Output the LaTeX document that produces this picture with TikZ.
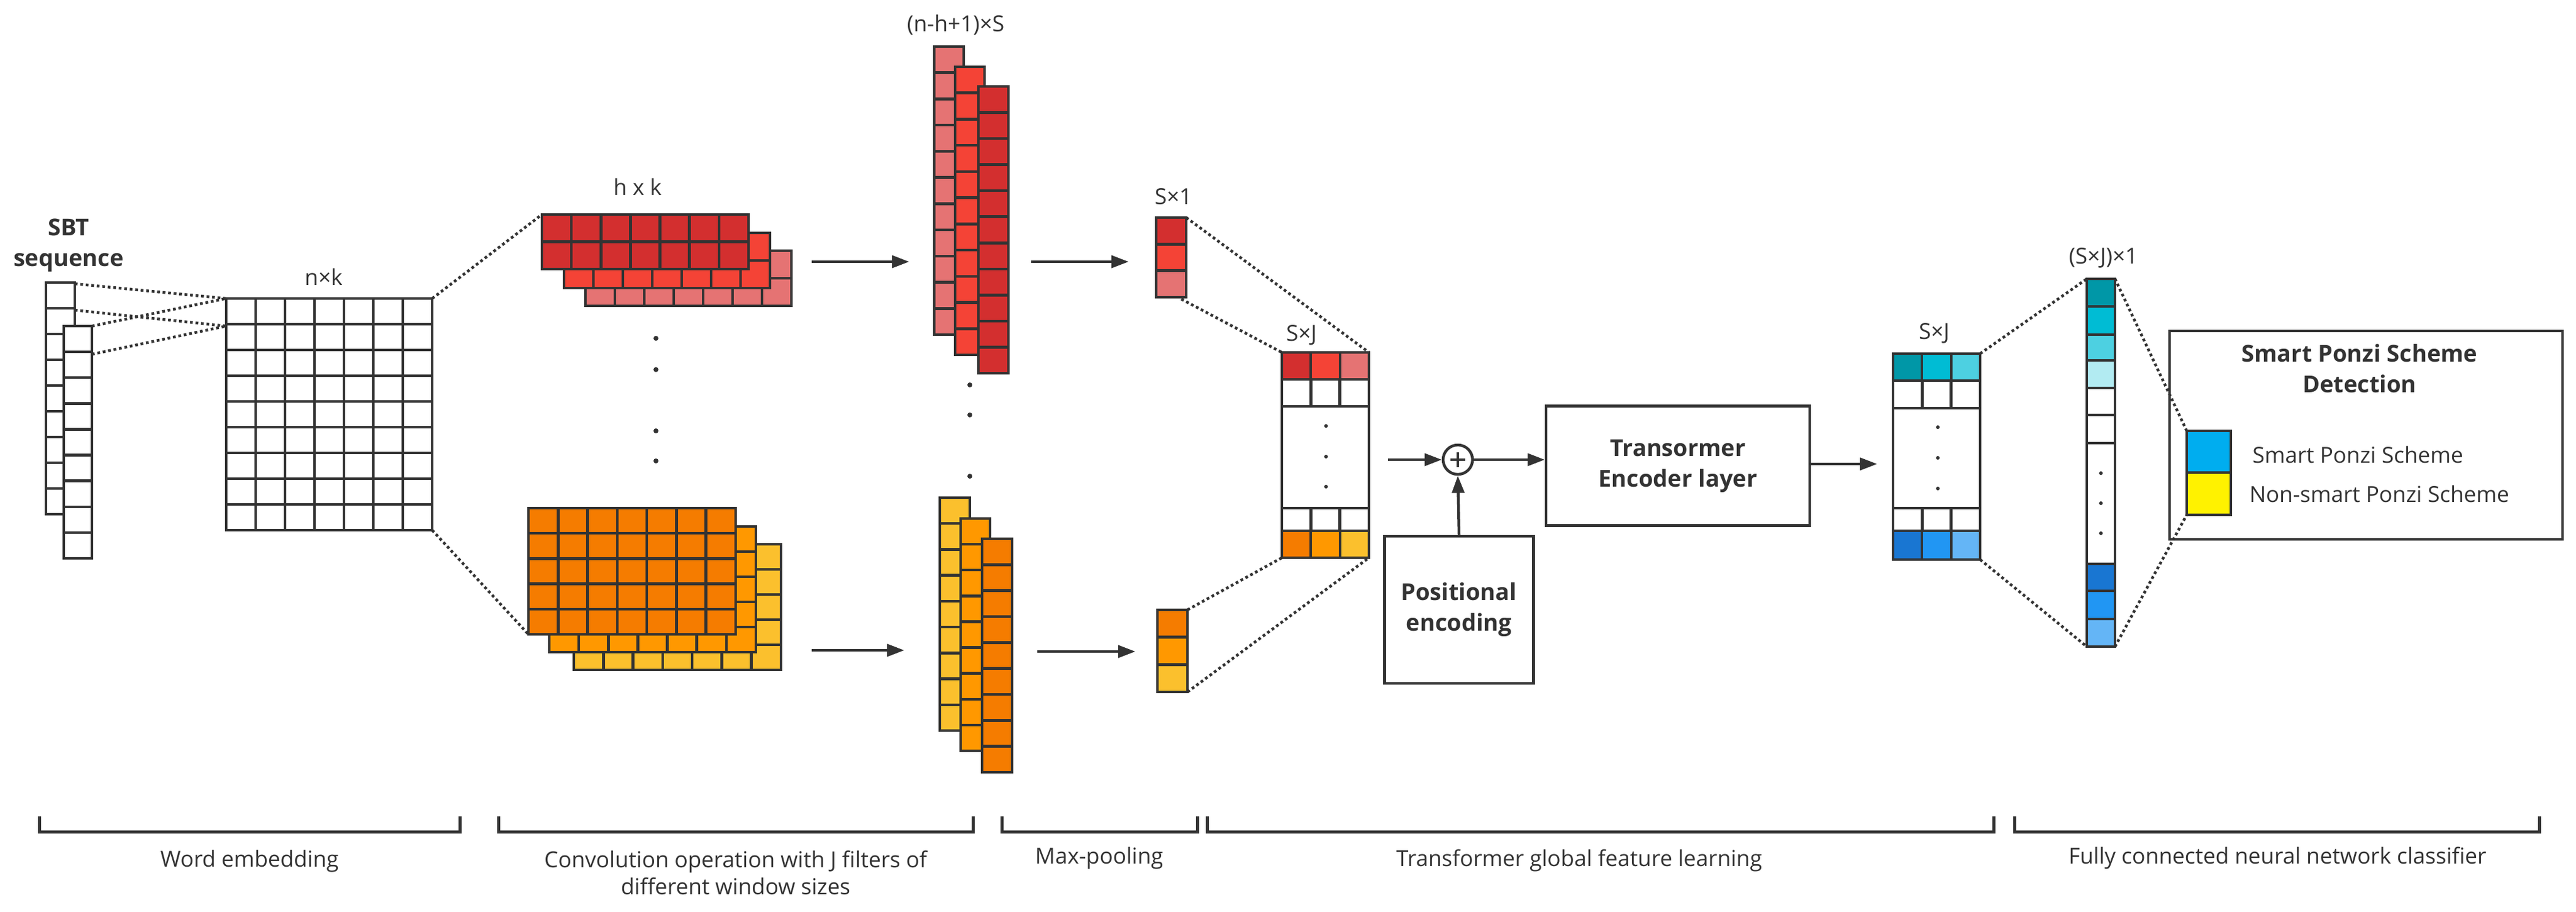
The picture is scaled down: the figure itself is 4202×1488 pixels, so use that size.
\documentclass[tikz,border=0pt]{standalone}
\usepackage{fontspec}
\setmainfont{Open Sans}
\usetikzlibrary{arrows.meta}
\definecolor{ink}{HTML}{333333}
\definecolor{rA}{HTML}{D32F2F}\definecolor{rB}{HTML}{F44336}\definecolor{rC}{HTML}{E57373}
\definecolor{oA}{HTML}{F57C00}\definecolor{oB}{HTML}{FF9800}\definecolor{oC}{HTML}{FBC02D}
\definecolor{bA}{HTML}{0097A7}\definecolor{bB}{HTML}{00BCD4}\definecolor{bC}{HTML}{4DD0E1}\definecolor{bD}{HTML}{B2EBF2}
\definecolor{dA}{HTML}{1976D2}\definecolor{dB}{HTML}{2196F3}\definecolor{dC}{HTML}{64B5F6}
\newcommand\blk[7]{%
 \filldraw[fill=#7] (#1,#2) rectangle (#3,#4);
 \ifnum#5>1 \foreach \i in {2,...,#5}{\draw ({#1+(\i-1)*(#3-#1)/#5},#2) -- ({#1+(\i-1)*(#3-#1)/#5},#4);}\fi
 \ifnum#6>1 \foreach \j in {2,...,#6}{\draw (#1,{#2+(\j-1)*(#4-#2)/#6}) -- (#3,{#2+(\j-1)*(#4-#2)/#6});}\fi}
\tikzset{
 lbl/.style={font=\fontsize{36}{44}\selectfont, inner sep=0pt},
 bl/.style={font=\fontsize{38}{50}\selectfont\bfseries, align=center, inner sep=0pt},
 dots/.style={dash pattern=on 4.5pt off 4.5pt, line width=4.5pt},
 arr/.style={-{Triangle[length=28pt,width=20pt]}},
 box/.style={draw, line width=4.5pt, inner sep=0pt},
 pt/.style={circle, fill=ink, inner sep=0pt, minimum size=8pt},
}
\begin{document}
\begin{tikzpicture}[x=1pt,y=-1pt,line width=4.5pt,color=ink]
\path[use as bounding box] (0,0) rectangle (4202,1488);
% SBT sequence
\node[bl] (sbt) at (112,400) {SBT\\sequence};
\blk{75}{461}{122}{839}{1}{9}{white}
\blk{104}{532}{150}{911}{1}{9}{white}
\coordinate (s1) at (122,463); \coordinate (s2) at (122,506);
\coordinate (s3) at (150,532); \coordinate (s4) at (150,578);
% embedding matrix
\blk{369}{487}{705}{865}{7}{9}{white}
\node[lbl] (nk) at (528,452) {n×k};
\coordinate (mtl) at (369,487); \coordinate (ml2) at (369,532);
\coordinate (mtr) at (705,487); \coordinate (mbr) at (705,865);
\draw[dots] (s1) -- (mtl); \draw[dots] (s2) -- (ml2);
\draw[dots] (s3) -- (mtl); \draw[dots] (s4) -- (ml2);
% filters
\node[lbl] (hk) at (1040,305) {h x k};
\blk{955}{409}{1291}{499}{7}{2}{rC}
\blk{920}{380}{1256}{470}{7}{2}{rB}
\blk{884}{350}{1221}{439}{7}{2}{rA}
\blk{936}{888}{1274}{1093}{7}{5}{oC}
\blk{896}{859}{1233}{1064}{7}{5}{oB}
\blk{862}{829}{1200}{1035}{7}{5}{oA}
\coordinate (ftl) at (884,350); \coordinate (fbl) at (862,1035);
\draw[dots] (mtr) -- (ftl); \draw[dots] (mbr) -- (fbl);
\foreach \y in {552,603,703,752} \node[pt] at (1070,\y) {};
% feature maps
\node[lbl] (fm) at (1559,41) {(n-h+1)×S};
\blk{1524}{76}{1572}{546}{1}{11}{rC}
\blk{1558}{109}{1606}{579}{1}{11}{rB}
\blk{1596}{141}{1645}{609}{1}{11}{rA}
\blk{1533}{812}{1582}{1192}{1}{9}{oC}
\blk{1567}{846}{1615}{1225}{1}{9}{oB}
\blk{1602}{879}{1651}{1260}{1}{9}{oA}
\foreach \y in {628,677,777} \node[pt] at (1582,\y) {};
\coordinate (a1s) at (1324,427); \coordinate (a1e) at (1483,427);
\coordinate (a2s) at (1324,1061); \coordinate (a2e) at (1475,1061);
\coordinate (a3s) at (1682,427); \coordinate (a3e) at (1841,427);
\coordinate (a4s) at (1692,1063); \coordinate (a4e) at (1852,1063);
\draw[arr] (a1s) -- (a1e); \draw[arr] (a2s) -- (a2e);
\draw[arr] (a3s) -- (a3e); \draw[arr] (a4s) -- (a4e);
% max pooling
\node[lbl] (s1l) at (1914,321) {S×1};
\filldraw[fill=rA] (1886,355) rectangle (1935,398.3);
\filldraw[fill=rB] (1886,398.3) rectangle (1935,441.7);
\filldraw[fill=rC] (1886,441.7) rectangle (1935,485);
\filldraw[fill=oA] (1888,995) rectangle (1937,1039.7);
\filldraw[fill=oB] (1888,1039.7) rectangle (1937,1084.3);
\filldraw[fill=oC] (1888,1084.3) rectangle (1937,1129);
\coordinate (p1tr) at (1935,355); \coordinate (p1bl) at (1927,488);
\coordinate (p2tr) at (1937,995); \coordinate (p2br) at (1937,1129);
% S x J matrix
\node[lbl] (sj1) at (2123,547) {S×J};
\filldraw[fill=rA] (2091,575) rectangle (2138,619);
\filldraw[fill=rB] (2138,575) rectangle (2186,619);
\filldraw[fill=rC] (2186,575) rectangle (2233,619);
\blk{2091}{619}{2233}{663}{3}{1}{white}
\draw (2091,663) rectangle (2233,829);
\blk{2091}{829}{2233}{866}{3}{1}{white}
\filldraw[fill=oA] (2091,866) rectangle (2138,910);
\filldraw[fill=oB] (2138,866) rectangle (2186,910);
\filldraw[fill=oC] (2186,866) rectangle (2233,910);
\foreach \y in {695,745,794} \node[pt,minimum size=6pt] at (2163,\y) {};
\coordinate (jtl) at (2091,575); \coordinate (jtr) at (2233,575);
\coordinate (jbl) at (2091,910); \coordinate (jbr) at (2233,910);
\draw[dots] (p1tr) -- (jtr); \draw[dots] (p1bl) -- (jtl);
\draw[dots] (p2tr) -- (jbl); \draw[dots] (p2br) -- (jbr);
% transformer
\coordinate (jout) at (2264,750);
\node[draw, circle, line width=4.5pt, minimum size=48pt, inner sep=0pt] (plus) at (2378,750) {};
\draw[line width=4pt] (2366,750) -- (2390,750) (2378,738) -- (2378,762);
\node[box, minimum width=243pt, minimum height=240pt, bl] (pos) at (2380,995) {Positional\\encoding};
\node[box, minimum width=430pt, minimum height=195pt, bl] (tr) at (2737,760) {Transormer\\Encoder layer};
\draw[arr] (jout) -- (plus.west);
\draw[arr] (pos.north) -- (plus.south);
\draw[arr] (plus.east) -- (plus.east -| tr.west);
\coordinate (tout) at (3062,757);
\draw[arr] (tr.east |- tout) -- (tout);
% blue matrix
\node[lbl] (sj2) at (3155,544) {S×J};
\filldraw[fill=bA] (3088,577) rectangle (3135,621);
\filldraw[fill=bB] (3135,577) rectangle (3183,621);
\filldraw[fill=bC] (3183,577) rectangle (3230,621);
\blk{3088}{621}{3230}{666}{3}{1}{white}
\draw (3088,666) rectangle (3230,829);
\blk{3088}{829}{3230}{866}{3}{1}{white}
\filldraw[fill=dA] (3088,866) rectangle (3135,913);
\filldraw[fill=dB] (3135,866) rectangle (3183,913);
\filldraw[fill=dC] (3183,866) rectangle (3230,913);
\foreach \y in {697,747,797} \node[pt,minimum size=6pt] at (3161,\y) {};
\coordinate (btr) at (3230,577); \coordinate (bbr) at (3230,913);
% long column
\node[lbl] (sjl) at (3431,421) {(S×J)×1};
\filldraw[fill=bA] (3404,455) rectangle (3450,500);
\filldraw[fill=bB] (3404,500) rectangle (3450,546);
\filldraw[fill=bC] (3404,546) rectangle (3450,588);
\filldraw[fill=bD] (3404,588) rectangle (3450,633);
\draw (3404,633) rectangle (3450,677);
\draw (3404,677) rectangle (3450,723);
\draw (3404,723) rectangle (3450,920);
\filldraw[fill=dA] (3404,920) rectangle (3450,964);
\filldraw[fill=dB] (3404,964) rectangle (3450,1010);
\filldraw[fill=dC] (3404,1010) rectangle (3450,1055);
\foreach \y in {772,821,870} \node[pt,minimum size=6pt] at (3427,\y) {};
\coordinate (ctl) at (3404,455); \coordinate (cbl) at (3404,1055);
\coordinate (ctr) at (3450,455); \coordinate (cbr) at (3450,1055);
\draw[dots] (btr) -- (ctl); \draw[dots] (bbr) -- (cbl);
% detection box
\draw (3539,540) rectangle (4180,880);
\node[bl] (det) at (3849,601) {Smart Ponzi Scheme\\Detection};
\filldraw[fill=cyan] (3567,703) rectangle (3639,771);
\filldraw[fill=yellow] (3567,771) rectangle (3639,840);
\coordinate (ltl) at (3567,703); \coordinate (lbl) at (3567,840);
\draw[dots] (ctr) -- (ltl); \draw[dots] (cbr) -- (lbl);
\node[lbl, anchor=west] (l1) at (3672,742) {Smart Ponzi Scheme};
\node[lbl, anchor=west] (l2) at (3667,806) {Non-smart Ponzi Scheme};
% brackets
\foreach \a/\b in {64/750, 813/1587, 1634/1953, 1969/3252, 3286/4142}
  \draw[line width=5pt] (\a,1332) -- (\a,1357) -- (\b,1357) -- (\b,1332);
\node[lbl] (g1) at (407,1405) {Word embedding};
\node[lbl, align=center] (g2) at (1200,1424) {Convolution operation with J filters of\\different window sizes};
\node[lbl] (g3) at (1793,1400) {Max-pooling};
\node[lbl] (g4) at (2576,1404) {Transformer global feature learning};
\node[lbl] (g5) at (3715,1400) {Fully connected neural network classifier};
\end{tikzpicture}
\end{document}
